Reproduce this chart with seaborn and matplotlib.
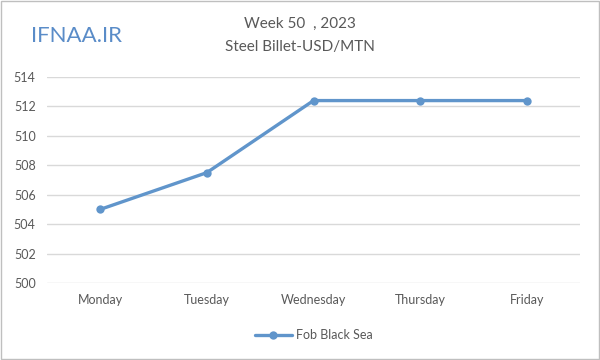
import numpy as np
import pandas as pd
import matplotlib.pyplot as plt
import seaborn as sns

days = ['Monday', 'Tuesday', 'Wednesday', 'Thursday', 'Friday']
fob_black_sea = [505, 507.5, 512.4, 512.4, 512.4]
y_ticks = [500, 502, 504, 506, 508, 510, 512, 514]

df = pd.DataFrame({'day': days, 'price': fob_black_sea})

sns.set_theme(style='white')
plt.rcParams['font.family'] = ['Lato', 'DejaVu Sans']

fig = plt.figure(figsize=(6, 3.6), dpi=100)
ax = fig.add_axes([0.078, 0.214, 0.889, 0.572])

sns.lineplot(data=df, x='day', y='price', ax=ax, sort=False, color='#6095cb',
             linewidth=2.4, marker='o', markersize=6, markeredgewidth=0,
             label='Fob Black Sea')

ax.set_xlim(-0.5, 4.5)
ax.set_ylim(500, 514)
ax.set_yticks(y_ticks)
ax.yaxis.grid(True, color='#d9d9d9', linewidth=1)
ax.set_axisbelow(True)
for s in ax.spines.values():
    s.set_visible(False)
ax.tick_params(axis='both', length=0, labelsize=9, colors='#595959', pad=8)
ax.set_xlabel('')
ax.set_ylabel('')

ax.legend(loc='upper center', bbox_to_anchor=(0.5, -0.17), frameon=False,
          fontsize=9, labelcolor='#595959', handlelength=3, handletextpad=0.3)

fig.text(0.5, 0.935, 'Week 50  , 2023', ha='center', va='center', fontsize=11, color='#595959')
fig.text(0.5, 0.87, 'Steel Billet-USD/MTN', ha='center', va='center', fontsize=11, color='#595959')
fig.text(0.128, 0.9, 'IFNAA.IR', ha='center', va='center', fontsize=16, color='#5a8cc8')

fig.patches.append(plt.Rectangle((0.002, 0.003), 0.996, 0.994, transform=fig.transFigure,
                                 fill=False, edgecolor='#bfbfbf', linewidth=1))

plt.savefig('out.png', dpi=100)
